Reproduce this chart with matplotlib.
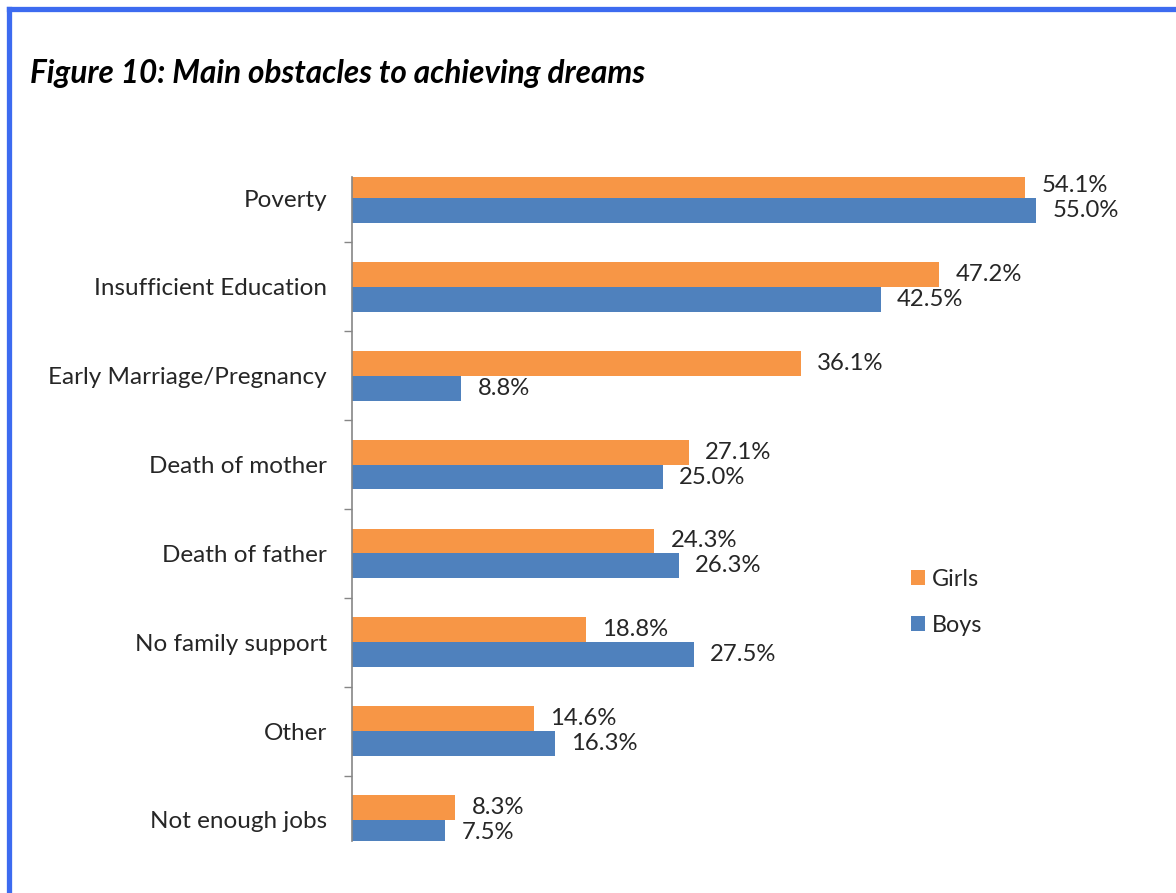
import matplotlib
matplotlib.use("Agg")
import matplotlib.pyplot as plt
from matplotlib.lines import Line2D

categories = [
    "Poverty",
    "Insufficient Education",
    "Early Marriage/Pregnancy",
    "Death of mother",
    "Death of father",
    "No family support",
    "Other",
    "Not enough jobs",
]
girls = [54.1, 47.2, 36.1, 27.1, 24.3, 18.8, 14.6, 8.3]
boys = [55.0, 42.5, 8.8, 25.0, 26.3, 27.5, 16.3, 7.5]

orange = "#F79646"
blue = "#4F81BD"
text_col = "#262626"

plt.rcParams["font.family"] = ["Lato", "DejaVu Sans"]

fig = plt.figure(figsize=(11.76, 8.93), dpi=100)
ax = fig.add_axes([352 / 1176, 1 - 841 / 893, (1140 - 352) / 1176, (841 - 177) / 893])

h = 0.28
ys = list(range(len(categories)))
ax.barh([y - h / 2 for y in ys], girls, height=h, color=orange, label="Girls")
ax.barh([y + h / 2 for y in ys], boys, height=h, color=blue, label="Boys")

last = ys[-1]
for y, g, b in zip(ys, girls, boys):
    ax.text(g + 1.3, y - h / 2, f"{g:.1f}%", va="center", ha="left",
            fontsize=17.2, color=text_col, clip_on=False)
    # the bottom row is cut off by the plot area, like in the original
    ax.text(b + 1.3, y + h / 2, f"{b:.1f}%", va="center", ha="left",
            fontsize=17.2, color=text_col, clip_on=(y == last))

ax.set_xlim(0, (1140 - 352) / 12.44)
ax.set_ylim(7 + 21 / 88.83, -21 / 88.83)

ax.set_yticks(ys)
ax.set_yticklabels(categories, fontsize=17.5, color=text_col)
ax.set_yticks([y + 0.5 for y in ys[:-1]], minor=True)
ax.tick_params(axis="y", which="major", length=0, pad=18)
ax.tick_params(axis="y", which="minor", length=6, color="#868686", width=1)
ax.set_xticks([])

for s in ["top", "right", "bottom"]:
    ax.spines[s].set_visible(False)
ax.spines["left"].set_color("#868686")
ax.spines["left"].set_linewidth(1.2)

fig.legend(loc="upper left", bbox_to_anchor=(890 / 1176, 1 - 548 / 893),
           frameon=False, fontsize=16.8, handlelength=0.6, handleheight=0.6,
           labelspacing=1.05, handletextpad=0.3, labelcolor=text_col)

fig.text(30 / 1176, 1 - 74 / 893, "Figure 10: Main obstacles to achieving dreams",
         fontsize=22.7, fontweight="bold", fontstyle="italic", va="center", ha="left")

# blue frame (top and left edges)
border = "#3D6BF0"
fig.add_artist(Line2D([8.5 / 1176, 1], [1 - 8.5 / 893, 1 - 8.5 / 893],
                      transform=fig.transFigure, color=border, linewidth=3.8))
fig.add_artist(Line2D([8.5 / 1176, 8.5 / 1176], [0, 1 - 8.5 / 893],
                      transform=fig.transFigure, color=border, linewidth=3.8))

fig.savefig("out.png", dpi=100)
